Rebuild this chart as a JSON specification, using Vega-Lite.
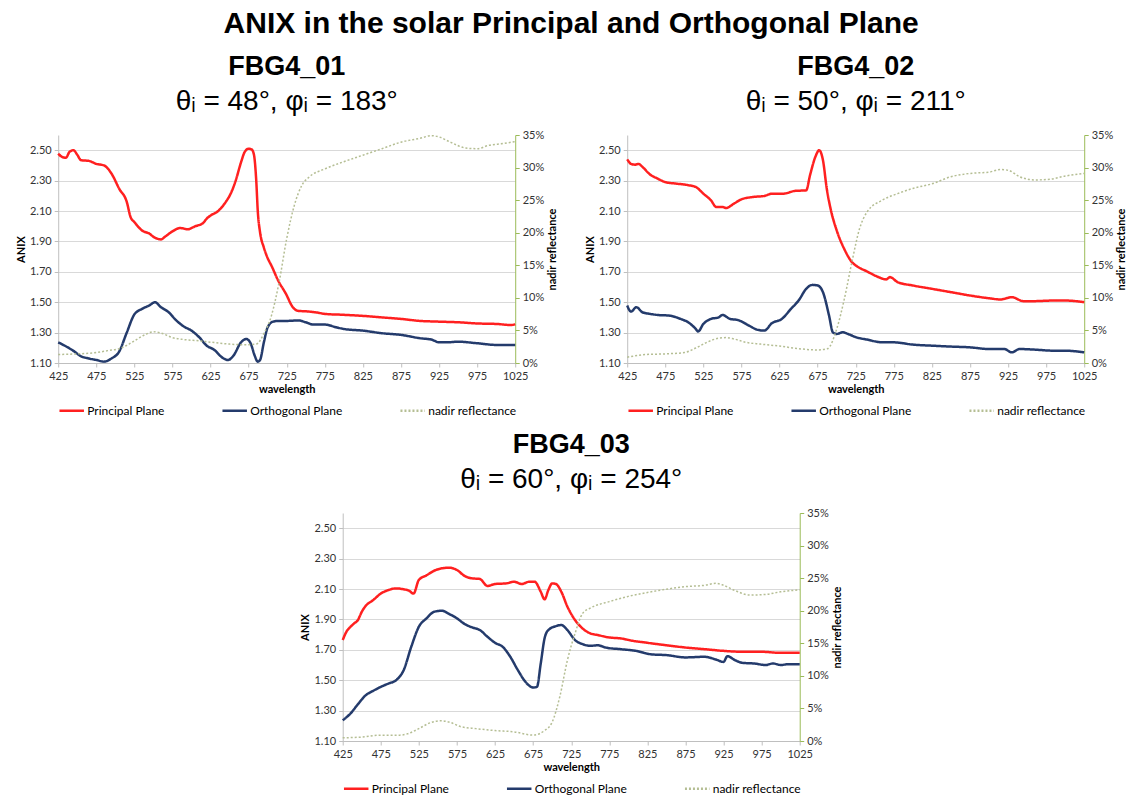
{
  "$schema": "https://vega.github.io/schema/vega-lite/v6.json",
  "padding": {"left": 15, "top": 9, "right": 2, "bottom": 3},
  "background": "white",
  "title": {"text": "ANIX in the solar Principal and Orthogonal Plane", "font": "Liberation Sans", "fontSize": 30, "fontWeight": "bold", "color": "#000000", "anchor": "middle", "offset": 14},
  "datasets": {
    "d1": [
      {"s":"Principal Plane","w":425,"v":2.478},{"s":"Principal Plane","w":430,"v":2.456},{"s":"Principal Plane","w":435,"v":2.45},{"s":"Principal Plane","w":440,"v":2.49},{"s":"Principal Plane","w":445,"v":2.5},{"s":"Principal Plane","w":450,"v":2.47},{"s":"Principal Plane","w":455,"v":2.434},{"s":"Principal Plane","w":465,"v":2.43},{"s":"Principal Plane","w":475,"v":2.41},{"s":"Principal Plane","w":485,"v":2.4},{"s":"Principal Plane","w":495,"v":2.346},{"s":"Principal Plane","w":505,"v":2.247},{"s":"Principal Plane","w":515,"v":2.16},{"s":"Principal Plane","w":520,"v":2.06},{"s":"Principal Plane","w":525,"v":2.027},{"s":"Principal Plane","w":535,"v":1.972},{"s":"Principal Plane","w":545,"v":1.95},{"s":"Principal Plane","w":550,"v":1.93},{"s":"Principal Plane","w":555,"v":1.918},{"s":"Principal Plane","w":560,"v":1.913},{"s":"Principal Plane","w":565,"v":1.93},{"s":"Principal Plane","w":575,"v":1.966},{"s":"Principal Plane","w":585,"v":1.988},{"s":"Principal Plane","w":595,"v":1.98},{"s":"Principal Plane","w":605,"v":2.0},{"s":"Principal Plane","w":615,"v":2.02},{"s":"Principal Plane","w":620,"v":2.05},{"s":"Principal Plane","w":625,"v":2.07},{"s":"Principal Plane","w":635,"v":2.1},{"s":"Principal Plane","w":645,"v":2.16},{"s":"Principal Plane","w":652,"v":2.22},{"s":"Principal Plane","w":658,"v":2.3},{"s":"Principal Plane","w":665,"v":2.42},{"s":"Principal Plane","w":670,"v":2.49},{"s":"Principal Plane","w":675,"v":2.51},{"s":"Principal Plane","w":679,"v":2.505},{"s":"Principal Plane","w":682,"v":2.47},{"s":"Principal Plane","w":685,"v":2.3},{"s":"Principal Plane","w":687,"v":2.1},{"s":"Principal Plane","w":690,"v":1.96},{"s":"Principal Plane","w":695,"v":1.86},{"s":"Principal Plane","w":700,"v":1.79},{"s":"Principal Plane","w":705,"v":1.74},{"s":"Principal Plane","w":714,"v":1.64},{"s":"Principal Plane","w":724,"v":1.555},{"s":"Principal Plane","w":733,"v":1.467},{"s":"Principal Plane","w":740,"v":1.443},{"s":"Principal Plane","w":750,"v":1.44},{"s":"Principal Plane","w":765,"v":1.432},{"s":"Principal Plane","w":775,"v":1.423},{"s":"Principal Plane","w":800,"v":1.417},{"s":"Principal Plane","w":825,"v":1.41},{"s":"Principal Plane","w":850,"v":1.4},{"s":"Principal Plane","w":875,"v":1.39},{"s":"Principal Plane","w":900,"v":1.377},{"s":"Principal Plane","w":925,"v":1.372},{"s":"Principal Plane","w":950,"v":1.368},{"s":"Principal Plane","w":975,"v":1.36},{"s":"Principal Plane","w":1000,"v":1.357},{"s":"Principal Plane","w":1020,"v":1.35},{"s":"Principal Plane","w":1025,"v":1.355},
      {"s":"Orthogonal Plane","w":425,"v":1.236},{"s":"Orthogonal Plane","w":435,"v":1.21},{"s":"Orthogonal Plane","w":445,"v":1.18},{"s":"Orthogonal Plane","w":455,"v":1.144},{"s":"Orthogonal Plane","w":465,"v":1.13},{"s":"Orthogonal Plane","w":475,"v":1.12},{"s":"Orthogonal Plane","w":485,"v":1.109},{"s":"Orthogonal Plane","w":495,"v":1.13},{"s":"Orthogonal Plane","w":505,"v":1.175},{"s":"Orthogonal Plane","w":515,"v":1.3},{"s":"Orthogonal Plane","w":525,"v":1.42},{"s":"Orthogonal Plane","w":535,"v":1.456},{"s":"Orthogonal Plane","w":545,"v":1.48},{"s":"Orthogonal Plane","w":552,"v":1.5},{"s":"Orthogonal Plane","w":560,"v":1.467},{"s":"Orthogonal Plane","w":570,"v":1.434},{"s":"Orthogonal Plane","w":580,"v":1.38},{"s":"Orthogonal Plane","w":590,"v":1.34},{"s":"Orthogonal Plane","w":600,"v":1.313},{"s":"Orthogonal Plane","w":610,"v":1.27},{"s":"Orthogonal Plane","w":620,"v":1.214},{"s":"Orthogonal Plane","w":630,"v":1.186},{"s":"Orthogonal Plane","w":640,"v":1.137},{"s":"Orthogonal Plane","w":648,"v":1.12},{"s":"Orthogonal Plane","w":655,"v":1.148},{"s":"Orthogonal Plane","w":665,"v":1.236},{"s":"Orthogonal Plane","w":672,"v":1.258},{"s":"Orthogonal Plane","w":678,"v":1.225},{"s":"Orthogonal Plane","w":683,"v":1.148},{"s":"Orthogonal Plane","w":687,"v":1.109},{"s":"Orthogonal Plane","w":690,"v":1.12},{"s":"Orthogonal Plane","w":695,"v":1.236},{"s":"Orthogonal Plane","w":700,"v":1.335},{"s":"Orthogonal Plane","w":707,"v":1.372},{"s":"Orthogonal Plane","w":715,"v":1.377},{"s":"Orthogonal Plane","w":725,"v":1.377},{"s":"Orthogonal Plane","w":740,"v":1.38},{"s":"Orthogonal Plane","w":750,"v":1.368},{"s":"Orthogonal Plane","w":760,"v":1.353},{"s":"Orthogonal Plane","w":775,"v":1.353},{"s":"Orthogonal Plane","w":790,"v":1.335},{"s":"Orthogonal Plane","w":800,"v":1.324},{"s":"Orthogonal Plane","w":825,"v":1.313},{"s":"Orthogonal Plane","w":850,"v":1.296},{"s":"Orthogonal Plane","w":875,"v":1.285},{"s":"Orthogonal Plane","w":900,"v":1.263},{"s":"Orthogonal Plane","w":915,"v":1.254},{"s":"Orthogonal Plane","w":925,"v":1.236},{"s":"Orthogonal Plane","w":935,"v":1.236},{"s":"Orthogonal Plane","w":950,"v":1.24},{"s":"Orthogonal Plane","w":975,"v":1.23},{"s":"Orthogonal Plane","w":1000,"v":1.219},{"s":"Orthogonal Plane","w":1025,"v":1.219},
      {"s":"nadir reflectance","w":425,"v":1.3},{"s":"nadir reflectance","w":450,"v":1.4},{"s":"nadir reflectance","w":475,"v":1.6},{"s":"nadir reflectance","w":490,"v":1.9},{"s":"nadir reflectance","w":505,"v":2.2},{"s":"nadir reflectance","w":515,"v":2.7},{"s":"nadir reflectance","w":525,"v":3.4},{"s":"nadir reflectance","w":540,"v":4.4},{"s":"nadir reflectance","w":550,"v":4.8},{"s":"nadir reflectance","w":560,"v":4.6},{"s":"nadir reflectance","w":575,"v":3.9},{"s":"nadir reflectance","w":590,"v":3.6},{"s":"nadir reflectance","w":610,"v":3.4},{"s":"nadir reflectance","w":625,"v":3.2},{"s":"nadir reflectance","w":650,"v":2.9},{"s":"nadir reflectance","w":670,"v":2.8},{"s":"nadir reflectance","w":685,"v":2.9},{"s":"nadir reflectance","w":695,"v":4.5},{"s":"nadir reflectance","w":705,"v":7.3},{"s":"nadir reflectance","w":715,"v":12.4},{"s":"nadir reflectance","w":725,"v":19.1},{"s":"nadir reflectance","w":735,"v":24.2},{"s":"nadir reflectance","w":745,"v":27.3},{"s":"nadir reflectance","w":755,"v":28.6},{"s":"nadir reflectance","w":775,"v":29.8},{"s":"nadir reflectance","w":800,"v":30.9},{"s":"nadir reflectance","w":825,"v":31.9},{"s":"nadir reflectance","w":850,"v":32.9},{"s":"nadir reflectance","w":875,"v":33.9},{"s":"nadir reflectance","w":900,"v":34.5},{"s":"nadir reflectance","w":915,"v":34.9},{"s":"nadir reflectance","w":925,"v":34.7},{"s":"nadir reflectance","w":940,"v":33.9},{"s":"nadir reflectance","w":960,"v":33.0},{"s":"nadir reflectance","w":975,"v":32.9},{"s":"nadir reflectance","w":990,"v":33.4},{"s":"nadir reflectance","w":1010,"v":33.7},{"s":"nadir reflectance","w":1025,"v":34.0}
    ],
    "d2": [
      {"s":"Principal Plane","w":425,"v":2.44},{"s":"Principal Plane","w":430,"v":2.41},{"s":"Principal Plane","w":435,"v":2.405},{"s":"Principal Plane","w":440,"v":2.41},{"s":"Principal Plane","w":445,"v":2.39},{"s":"Principal Plane","w":455,"v":2.34},{"s":"Principal Plane","w":465,"v":2.313},{"s":"Principal Plane","w":475,"v":2.29},{"s":"Principal Plane","w":490,"v":2.28},{"s":"Principal Plane","w":505,"v":2.27},{"s":"Principal Plane","w":515,"v":2.258},{"s":"Principal Plane","w":525,"v":2.214},{"s":"Principal Plane","w":535,"v":2.17},{"s":"Principal Plane","w":542,"v":2.126},{"s":"Principal Plane","w":550,"v":2.126},{"s":"Principal Plane","w":555,"v":2.12},{"s":"Principal Plane","w":565,"v":2.148},{"s":"Principal Plane","w":575,"v":2.177},{"s":"Principal Plane","w":590,"v":2.192},{"s":"Principal Plane","w":605,"v":2.199},{"s":"Principal Plane","w":615,"v":2.214},{"s":"Principal Plane","w":630,"v":2.214},{"s":"Principal Plane","w":645,"v":2.232},{"s":"Principal Plane","w":660,"v":2.236},{"s":"Principal Plane","w":665,"v":2.335},{"s":"Principal Plane","w":672,"v":2.456},{"s":"Principal Plane","w":677,"v":2.5},{"s":"Principal Plane","w":682,"v":2.434},{"s":"Principal Plane","w":687,"v":2.247},{"s":"Principal Plane","w":692,"v":2.115},{"s":"Principal Plane","w":700,"v":1.973},{"s":"Principal Plane","w":710,"v":1.85},{"s":"Principal Plane","w":720,"v":1.764},{"s":"Principal Plane","w":725,"v":1.742},{"s":"Principal Plane","w":740,"v":1.702},{"s":"Principal Plane","w":755,"v":1.665},{"s":"Principal Plane","w":765,"v":1.65},{"s":"Principal Plane","w":770,"v":1.665},{"s":"Principal Plane","w":780,"v":1.632},{"s":"Principal Plane","w":800,"v":1.61},{"s":"Principal Plane","w":825,"v":1.588},{"s":"Principal Plane","w":850,"v":1.566},{"s":"Principal Plane","w":875,"v":1.544},{"s":"Principal Plane","w":900,"v":1.526},{"s":"Principal Plane","w":915,"v":1.518},{"s":"Principal Plane","w":930,"v":1.533},{"s":"Principal Plane","w":945,"v":1.507},{"s":"Principal Plane","w":960,"v":1.507},{"s":"Principal Plane","w":985,"v":1.511},{"s":"Principal Plane","w":1000,"v":1.511},{"s":"Principal Plane","w":1025,"v":1.5},
      {"s":"Orthogonal Plane","w":425,"v":1.478},{"s":"Orthogonal Plane","w":430,"v":1.438},{"s":"Orthogonal Plane","w":437,"v":1.467},{"s":"Orthogonal Plane","w":445,"v":1.434},{"s":"Orthogonal Plane","w":455,"v":1.423},{"s":"Orthogonal Plane","w":465,"v":1.416},{"s":"Orthogonal Plane","w":480,"v":1.412},{"s":"Orthogonal Plane","w":495,"v":1.39},{"s":"Orthogonal Plane","w":505,"v":1.368},{"s":"Orthogonal Plane","w":515,"v":1.324},{"s":"Orthogonal Plane","w":518,"v":1.307},{"s":"Orthogonal Plane","w":525,"v":1.357},{"s":"Orthogonal Plane","w":535,"v":1.39},{"s":"Orthogonal Plane","w":545,"v":1.4},{"s":"Orthogonal Plane","w":550,"v":1.416},{"s":"Orthogonal Plane","w":560,"v":1.39},{"s":"Orthogonal Plane","w":570,"v":1.383},{"s":"Orthogonal Plane","w":585,"v":1.346},{"s":"Orthogonal Plane","w":595,"v":1.32},{"s":"Orthogonal Plane","w":605,"v":1.313},{"s":"Orthogonal Plane","w":615,"v":1.362},{"s":"Orthogonal Plane","w":628,"v":1.39},{"s":"Orthogonal Plane","w":640,"v":1.456},{"s":"Orthogonal Plane","w":650,"v":1.511},{"s":"Orthogonal Plane","w":660,"v":1.588},{"s":"Orthogonal Plane","w":668,"v":1.614},{"s":"Orthogonal Plane","w":675,"v":1.61},{"s":"Orthogonal Plane","w":682,"v":1.566},{"s":"Orthogonal Plane","w":690,"v":1.412},{"s":"Orthogonal Plane","w":695,"v":1.302},{"s":"Orthogonal Plane","w":700,"v":1.291},{"s":"Orthogonal Plane","w":708,"v":1.302},{"s":"Orthogonal Plane","w":715,"v":1.291},{"s":"Orthogonal Plane","w":725,"v":1.27},{"s":"Orthogonal Plane","w":740,"v":1.254},{"s":"Orthogonal Plane","w":760,"v":1.236},{"s":"Orthogonal Plane","w":775,"v":1.236},{"s":"Orthogonal Plane","w":800,"v":1.221},{"s":"Orthogonal Plane","w":825,"v":1.214},{"s":"Orthogonal Plane","w":850,"v":1.208},{"s":"Orthogonal Plane","w":875,"v":1.203},{"s":"Orthogonal Plane","w":900,"v":1.192},{"s":"Orthogonal Plane","w":920,"v":1.192},{"s":"Orthogonal Plane","w":930,"v":1.17},{"s":"Orthogonal Plane","w":940,"v":1.192},{"s":"Orthogonal Plane","w":960,"v":1.188},{"s":"Orthogonal Plane","w":985,"v":1.181},{"s":"Orthogonal Plane","w":1000,"v":1.181},{"s":"Orthogonal Plane","w":1025,"v":1.17},
      {"s":"nadir reflectance","w":425,"v":0.9},{"s":"nadir reflectance","w":450,"v":1.3},{"s":"nadir reflectance","w":475,"v":1.4},{"s":"nadir reflectance","w":500,"v":1.6},{"s":"nadir reflectance","w":515,"v":2.3},{"s":"nadir reflectance","w":530,"v":3.2},{"s":"nadir reflectance","w":545,"v":3.8},{"s":"nadir reflectance","w":555,"v":3.9},{"s":"nadir reflectance","w":565,"v":3.7},{"s":"nadir reflectance","w":580,"v":3.2},{"s":"nadir reflectance","w":600,"v":2.9},{"s":"nadir reflectance","w":625,"v":2.6},{"s":"nadir reflectance","w":650,"v":2.2},{"s":"nadir reflectance","w":675,"v":2.0},{"s":"nadir reflectance","w":688,"v":2.2},{"s":"nadir reflectance","w":700,"v":5.2},{"s":"nadir reflectance","w":710,"v":9.8},{"s":"nadir reflectance","w":720,"v":15.5},{"s":"nadir reflectance","w":730,"v":20.6},{"s":"nadir reflectance","w":740,"v":23.2},{"s":"nadir reflectance","w":760,"v":25.0},{"s":"nadir reflectance","w":780,"v":26.0},{"s":"nadir reflectance","w":800,"v":26.8},{"s":"nadir reflectance","w":825,"v":27.5},{"s":"nadir reflectance","w":850,"v":28.6},{"s":"nadir reflectance","w":875,"v":29.1},{"s":"nadir reflectance","w":900,"v":29.3},{"s":"nadir reflectance","w":915,"v":29.7},{"s":"nadir reflectance","w":925,"v":29.6},{"s":"nadir reflectance","w":940,"v":28.6},{"s":"nadir reflectance","w":960,"v":28.1},{"s":"nadir reflectance","w":980,"v":28.2},{"s":"nadir reflectance","w":1000,"v":28.7},{"s":"nadir reflectance","w":1025,"v":29.1}
    ],
    "d3": [
      {"s":"Principal Plane","w":425,"v":1.764},{"s":"Principal Plane","w":430,"v":1.82},{"s":"Principal Plane","w":435,"v":1.85},{"s":"Principal Plane","w":440,"v":1.874},{"s":"Principal Plane","w":445,"v":1.896},{"s":"Principal Plane","w":450,"v":1.95},{"s":"Principal Plane","w":455,"v":1.988},{"s":"Principal Plane","w":465,"v":2.027},{"s":"Principal Plane","w":475,"v":2.07},{"s":"Principal Plane","w":485,"v":2.093},{"s":"Principal Plane","w":495,"v":2.104},{"s":"Principal Plane","w":505,"v":2.098},{"s":"Principal Plane","w":512,"v":2.089},{"s":"Principal Plane","w":518,"v":2.07},{"s":"Principal Plane","w":525,"v":2.16},{"s":"Principal Plane","w":535,"v":2.19},{"s":"Principal Plane","w":545,"v":2.22},{"s":"Principal Plane","w":555,"v":2.236},{"s":"Principal Plane","w":565,"v":2.24},{"s":"Principal Plane","w":575,"v":2.225},{"s":"Principal Plane","w":585,"v":2.186},{"s":"Principal Plane","w":595,"v":2.17},{"s":"Principal Plane","w":605,"v":2.166},{"s":"Principal Plane","w":615,"v":2.12},{"s":"Principal Plane","w":625,"v":2.133},{"s":"Principal Plane","w":640,"v":2.137},{"s":"Principal Plane","w":650,"v":2.148},{"s":"Principal Plane","w":660,"v":2.133},{"s":"Principal Plane","w":670,"v":2.148},{"s":"Principal Plane","w":677,"v":2.148},{"s":"Principal Plane","w":685,"v":2.082},{"s":"Principal Plane","w":690,"v":2.032},{"s":"Principal Plane","w":695,"v":2.093},{"s":"Principal Plane","w":700,"v":2.137},{"s":"Principal Plane","w":705,"v":2.133},{"s":"Principal Plane","w":712,"v":2.082},{"s":"Principal Plane","w":720,"v":1.984},{"s":"Principal Plane","w":730,"v":1.896},{"s":"Principal Plane","w":740,"v":1.84},{"s":"Principal Plane","w":750,"v":1.808},{"s":"Principal Plane","w":760,"v":1.797},{"s":"Principal Plane","w":775,"v":1.781},{"s":"Principal Plane","w":790,"v":1.775},{"s":"Principal Plane","w":805,"v":1.76},{"s":"Principal Plane","w":825,"v":1.746},{"s":"Principal Plane","w":850,"v":1.73},{"s":"Principal Plane","w":875,"v":1.715},{"s":"Principal Plane","w":900,"v":1.704},{"s":"Principal Plane","w":925,"v":1.693},{"s":"Principal Plane","w":950,"v":1.687},{"s":"Principal Plane","w":975,"v":1.687},{"s":"Principal Plane","w":1000,"v":1.68},{"s":"Principal Plane","w":1025,"v":1.68},
      {"s":"Orthogonal Plane","w":425,"v":1.236},{"s":"Orthogonal Plane","w":435,"v":1.28},{"s":"Orthogonal Plane","w":445,"v":1.342},{"s":"Orthogonal Plane","w":455,"v":1.4},{"s":"Orthogonal Plane","w":465,"v":1.43},{"s":"Orthogonal Plane","w":475,"v":1.456},{"s":"Orthogonal Plane","w":485,"v":1.478},{"s":"Orthogonal Plane","w":495,"v":1.5},{"s":"Orthogonal Plane","w":505,"v":1.566},{"s":"Orthogonal Plane","w":515,"v":1.72},{"s":"Orthogonal Plane","w":525,"v":1.852},{"s":"Orthogonal Plane","w":535,"v":1.907},{"s":"Orthogonal Plane","w":545,"v":1.95},{"s":"Orthogonal Plane","w":555,"v":1.957},{"s":"Orthogonal Plane","w":565,"v":1.935},{"s":"Orthogonal Plane","w":575,"v":1.907},{"s":"Orthogonal Plane","w":585,"v":1.87},{"s":"Orthogonal Plane","w":595,"v":1.847},{"s":"Orthogonal Plane","w":605,"v":1.83},{"s":"Orthogonal Plane","w":615,"v":1.786},{"s":"Orthogonal Plane","w":625,"v":1.746},{"s":"Orthogonal Plane","w":635,"v":1.72},{"s":"Orthogonal Plane","w":645,"v":1.654},{"s":"Orthogonal Plane","w":655,"v":1.566},{"s":"Orthogonal Plane","w":665,"v":1.489},{"s":"Orthogonal Plane","w":675,"v":1.452},{"s":"Orthogonal Plane","w":680,"v":1.456},{"s":"Orthogonal Plane","w":685,"v":1.61},{"s":"Orthogonal Plane","w":690,"v":1.775},{"s":"Orthogonal Plane","w":695,"v":1.83},{"s":"Orthogonal Plane","w":705,"v":1.856},{"s":"Orthogonal Plane","w":712,"v":1.863},{"s":"Orthogonal Plane","w":720,"v":1.83},{"s":"Orthogonal Plane","w":730,"v":1.764},{"s":"Orthogonal Plane","w":740,"v":1.737},{"s":"Orthogonal Plane","w":750,"v":1.726},{"s":"Orthogonal Plane","w":760,"v":1.73},{"s":"Orthogonal Plane","w":770,"v":1.715},{"s":"Orthogonal Plane","w":790,"v":1.704},{"s":"Orthogonal Plane","w":810,"v":1.693},{"s":"Orthogonal Plane","w":830,"v":1.67},{"s":"Orthogonal Plane","w":850,"v":1.665},{"s":"Orthogonal Plane","w":875,"v":1.65},{"s":"Orthogonal Plane","w":900,"v":1.654},{"s":"Orthogonal Plane","w":915,"v":1.636},{"s":"Orthogonal Plane","w":925,"v":1.62},{"s":"Orthogonal Plane","w":930,"v":1.658},{"s":"Orthogonal Plane","w":940,"v":1.632},{"s":"Orthogonal Plane","w":950,"v":1.614},{"s":"Orthogonal Plane","w":965,"v":1.61},{"s":"Orthogonal Plane","w":980,"v":1.6},{"s":"Orthogonal Plane","w":990,"v":1.61},{"s":"Orthogonal Plane","w":1000,"v":1.6},{"s":"Orthogonal Plane","w":1010,"v":1.605},{"s":"Orthogonal Plane","w":1025,"v":1.605},
      {"s":"nadir reflectance","w":425,"v":0.5},{"s":"nadir reflectance","w":450,"v":0.6},{"s":"nadir reflectance","w":475,"v":0.9},{"s":"nadir reflectance","w":500,"v":0.9},{"s":"nadir reflectance","w":510,"v":1.1},{"s":"nadir reflectance","w":525,"v":1.9},{"s":"nadir reflectance","w":540,"v":2.8},{"s":"nadir reflectance","w":555,"v":3.1},{"s":"nadir reflectance","w":565,"v":2.9},{"s":"nadir reflectance","w":580,"v":2.2},{"s":"nadir reflectance","w":600,"v":1.9},{"s":"nadir reflectance","w":625,"v":1.6},{"s":"nadir reflectance","w":650,"v":1.4},{"s":"nadir reflectance","w":675,"v":0.9},{"s":"nadir reflectance","w":690,"v":1.6},{"s":"nadir reflectance","w":700,"v":2.9},{"s":"nadir reflectance","w":710,"v":6.8},{"s":"nadir reflectance","w":720,"v":12.4},{"s":"nadir reflectance","w":730,"v":16.5},{"s":"nadir reflectance","w":740,"v":19.6},{"s":"nadir reflectance","w":750,"v":20.4},{"s":"nadir reflectance","w":775,"v":21.4},{"s":"nadir reflectance","w":800,"v":22.2},{"s":"nadir reflectance","w":825,"v":22.8},{"s":"nadir reflectance","w":850,"v":23.3},{"s":"nadir reflectance","w":875,"v":23.7},{"s":"nadir reflectance","w":900,"v":23.9},{"s":"nadir reflectance","w":915,"v":24.2},{"s":"nadir reflectance","w":925,"v":23.9},{"s":"nadir reflectance","w":940,"v":23.1},{"s":"nadir reflectance","w":960,"v":22.4},{"s":"nadir reflectance","w":980,"v":22.5},{"s":"nadir reflectance","w":1000,"v":22.9},{"s":"nadir reflectance","w":1025,"v":23.2}
    ]
  },
  "vconcat": [
    {
      "hconcat": [
        {
          "width": 457, "height": 228,
          "title": {"text": "FBG4_01", "subtitle": "θᵢ = 48°, φᵢ = 183°"},
          "data": {"name": "d1"},
          "encoding": {
            "x": {"field": "w", "type": "quantitative", "scale": {"domain": [425, 1025], "nice": false}, "axis": {"values": [425,475,525,575,625,675,725,775,825,875,925,975,1025], "format": "d", "labelOverlap": false, "labelFlush": false, "title": "wavelength"}}
          },
          "layer": [
            {
              "transform": [{"filter": "datum.s !== 'nadir reflectance'"}],
              "mark": {"type": "line", "strokeWidth": 2.5, "interpolate": "monotone"},
              "encoding": {
                "y": {"field": "v", "type": "quantitative", "scale": {"domain": [1.1, 2.6], "nice": false, "zero": false}, "axis": {"orient": "left", "values": [1.1,1.3,1.5,1.7,1.9,2.1,2.3,2.5], "format": ".2f", "title": "ANIX", "grid": true}},
                "color": {"field": "s", "type": "nominal", "scale": {"domain": ["Principal Plane","Orthogonal Plane","nadir reflectance"], "range": ["#FF2020","#243B6C","#B5BE94"]}, "legend": {"orient": "none", "legendX": 0, "legendY": 262}},
                "strokeDash": {"field": "s", "type": "nominal", "scale": {"domain": ["Principal Plane","Orthogonal Plane","nadir reflectance"], "range": [[1,0],[1,0],[2,2]]}, "legend": {"orient": "none", "legendX": 0, "legendY": 262}}
              }
            },
            {
              "transform": [{"filter": "datum.s === 'nadir reflectance'"}],
              "mark": {"type": "line", "strokeWidth": 1.5, "interpolate": "monotone"},
              "encoding": {
                "y": {"field": "v", "type": "quantitative", "scale": {"domain": [0, 35], "nice": false}, "axis": {"orient": "right", "values": [0,5,10,15,20,25,30,35], "labelExpr": "datum.value + '%'", "title": "nadir reflectance", "grid": false, "domainColor": "#9BBB59", "tickColor": "#9BBB59", "titleAngle": 270, "titleBaseline": "top"}},
                "color": {"field": "s", "type": "nominal", "scale": {"domain": ["Principal Plane","Orthogonal Plane","nadir reflectance"], "range": ["#FF2020","#243B6C","#B5BE94"]}},
                "strokeDash": {"field": "s", "type": "nominal", "scale": {"domain": ["Principal Plane","Orthogonal Plane","nadir reflectance"], "range": [[1,0],[1,0],[2,2]]}}
              }
            }
          ],
          "resolve": {"scale": {"y": "independent"}}
        },
        {
          "width": 457, "height": 228,
          "title": {"text": "FBG4_02", "subtitle": "θᵢ = 50°, φᵢ = 211°"},
          "data": {"name": "d2"},
          "encoding": {
            "x": {"field": "w", "type": "quantitative", "scale": {"domain": [425, 1025], "nice": false}, "axis": {"values": [425,475,525,575,625,675,725,775,825,875,925,975,1025], "format": "d", "labelOverlap": false, "labelFlush": false, "title": "wavelength"}}
          },
          "layer": [
            {
              "transform": [{"filter": "datum.s !== 'nadir reflectance'"}],
              "mark": {"type": "line", "strokeWidth": 2.5, "interpolate": "monotone"},
              "encoding": {
                "y": {"field": "v", "type": "quantitative", "scale": {"domain": [1.1, 2.6], "nice": false, "zero": false}, "axis": {"orient": "left", "values": [1.1,1.3,1.5,1.7,1.9,2.1,2.3,2.5], "format": ".2f", "title": "ANIX", "grid": true}},
                "color": {"field": "s", "type": "nominal", "scale": {"domain": ["Principal Plane","Orthogonal Plane","nadir reflectance"], "range": ["#FF2020","#243B6C","#B5BE94"]}, "legend": {"orient": "none", "legendX": 0, "legendY": 262}},
                "strokeDash": {"field": "s", "type": "nominal", "scale": {"domain": ["Principal Plane","Orthogonal Plane","nadir reflectance"], "range": [[1,0],[1,0],[2,2]]}, "legend": {"orient": "none", "legendX": 0, "legendY": 262}}
              }
            },
            {
              "transform": [{"filter": "datum.s === 'nadir reflectance'"}],
              "mark": {"type": "line", "strokeWidth": 1.5, "interpolate": "monotone"},
              "encoding": {
                "y": {"field": "v", "type": "quantitative", "scale": {"domain": [0, 35], "nice": false}, "axis": {"orient": "right", "values": [0,5,10,15,20,25,30,35], "labelExpr": "datum.value + '%'", "title": "nadir reflectance", "grid": false, "domainColor": "#9BBB59", "tickColor": "#9BBB59", "titleAngle": 270, "titleBaseline": "top"}},
                "color": {"field": "s", "type": "nominal", "scale": {"domain": ["Principal Plane","Orthogonal Plane","nadir reflectance"], "range": ["#FF2020","#243B6C","#B5BE94"]}},
                "strokeDash": {"field": "s", "type": "nominal", "scale": {"domain": ["Principal Plane","Orthogonal Plane","nadir reflectance"], "range": [[1,0],[1,0],[2,2]]}}
              }
            }
          ],
          "resolve": {"scale": {"y": "independent"}}
        }
      ],
      "spacing": 26,
      "resolve": {"scale": {"color": "independent", "strokeDash": "independent"}, "legend": {"color": "independent", "strokeDash": "independent"}}
    },
    {
      "width": 457, "height": 228,
      "title": {"text": "FBG4_03", "subtitle": "θᵢ = 60°, φᵢ = 254°"},
      "data": {"name": "d3"},
      "encoding": {
        "x": {"field": "w", "type": "quantitative", "scale": {"domain": [425, 1025], "nice": false}, "axis": {"values": [425,475,525,575,625,675,725,775,825,875,925,975,1025], "format": "d", "labelOverlap": false, "labelFlush": false, "title": "wavelength"}}
      },
      "layer": [
        {
          "transform": [{"filter": "datum.s !== 'nadir reflectance'"}],
          "mark": {"type": "line", "strokeWidth": 2.5, "interpolate": "monotone"},
          "encoding": {
            "y": {"field": "v", "type": "quantitative", "scale": {"domain": [1.1, 2.6], "nice": false, "zero": false}, "axis": {"orient": "left", "values": [1.1,1.3,1.5,1.7,1.9,2.1,2.3,2.5], "format": ".2f", "title": "ANIX", "grid": true}},
            "color": {"field": "s", "type": "nominal", "scale": {"domain": ["Principal Plane","Orthogonal Plane","nadir reflectance"], "range": ["#FF2020","#243B6C","#B5BE94"]}, "legend": {"orient": "none", "legendX": 0, "legendY": 262}},
            "strokeDash": {"field": "s", "type": "nominal", "scale": {"domain": ["Principal Plane","Orthogonal Plane","nadir reflectance"], "range": [[1,0],[1,0],[2,2]]}, "legend": {"orient": "none", "legendX": 0, "legendY": 262}}
          }
        },
        {
          "transform": [{"filter": "datum.s === 'nadir reflectance'"}],
          "mark": {"type": "line", "strokeWidth": 1.5, "interpolate": "monotone"},
          "encoding": {
            "y": {"field": "v", "type": "quantitative", "scale": {"domain": [0, 35], "nice": false}, "axis": {"orient": "right", "values": [0,5,10,15,20,25,30,35], "labelExpr": "datum.value + '%'", "title": "nadir reflectance", "grid": false, "domainColor": "#9BBB59", "tickColor": "#9BBB59", "titleAngle": 270, "titleBaseline": "top"}},
            "color": {"field": "s", "type": "nominal", "scale": {"domain": ["Principal Plane","Orthogonal Plane","nadir reflectance"], "range": ["#FF2020","#243B6C","#B5BE94"]}},
            "strokeDash": {"field": "s", "type": "nominal", "scale": {"domain": ["Principal Plane","Orthogonal Plane","nadir reflectance"], "range": [[1,0],[1,0],[2,2]]}}
          }
        }
      ],
      "resolve": {"scale": {"y": "independent"}}
    }
  ],
  "spacing": 14,
  "center": true,
  "resolve": {"scale": {"color": "independent", "strokeDash": "independent"}, "legend": {"color": "independent", "strokeDash": "independent"}},
  "config": {
    "view": {"stroke": null},
    "font": "Lato",
    "title": {"font": "Liberation Sans", "fontSize": 27, "fontWeight": "bold", "color": "#000000", "anchor": "middle", "subtitleFont": "Liberation Sans", "subtitleFontSize": 28, "subtitleColor": "#000000", "subtitlePadding": 7, "offset": 12},
    "axis": {"labelFont": "Lato", "labelFontSize": 11, "labelColor": "#333333", "titleFont": "Lato", "titleFontSize": 11, "titleFontWeight": "bold", "titleColor": "#000000", "domainColor": "#BFBFBF", "tickColor": "#BFBFBF", "tickSize": 4, "gridColor": "#D9D9D9", "gridWidth": 1, "labelPadding": 3, "titlePadding": 3},
    "axisX": {"grid": false, "titlePadding": 2, "labelOverlap": false, "labelFlush": false},
    "legend": {"direction": "horizontal", "symbolType": "stroke", "symbolStrokeWidth": 2.5, "symbolSize": 600, "labelFont": "Lato", "labelFontSize": 12, "labelColor": "#000000", "columnPadding": 52, "labelOffset": 2, "title": null}
  }
}
